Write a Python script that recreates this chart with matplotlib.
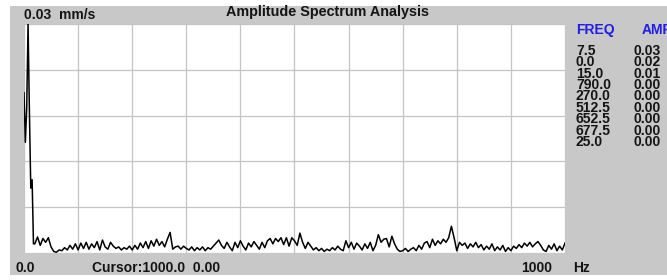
#!/usr/bin/env python

import numpy as np
import matplotlib
matplotlib.use('Agg')
import matplotlib.pyplot as plt
from matplotlib.patches import Rectangle

# spectrum: fine bins around the low-frequency spike (mm/s)
spike_freq = [0.0, 2.5, 5.0, 7.5, 10.0, 12.5, 15.0, 17.5]
spike_amp = [0.021, 0.0145, 0.019, 0.030, 0.0185, 0.0085, 0.0096, 0.0012]

# noise floor from 20 to 1000 Hz every 5 Hz, in units of 1e-4 mm/s
noise_start, noise_step = 20.0, 5.0
noise_e4 = [
  12, 21, 10, 19, 14, 20, 8, 2, 1, 4,
  3, 7, 4, 10, 5, 12, 4, 13, 6, 14,
  5, 12, 7, 15, 4, 17, 8, 5, 14, 9,
  6, 8, 4, 7, 5, 9, 4, 10, 5, 13,
  7, 15, 6, 16, 9, 18, 10, 15, 8, 18,
  27, 5, 8, 9, 5, 9, 6, 4, 8, 3,
  7, 4, 8, 3, 7, 5, 9, 13, 17, 10,
  6, 14, 8, 3, 14, 7, 16, 9, 4, 13,
  8, 15, 10, 5, 14, 7, 16, 19, 12, 19,
  15, 20, 11, 20, 9, 20, 16, 10, 26, 14,
  6, 14, 9, 4, 7, 3, 6, 2, 5, 3,
  7, 4, 9, 5, 3, 16, 7, 14, 5, 13,
  9, 4, 12, 6, 14, 3, 10, 24, 14, 18,
  19, 8, 22, 12, 5, 2, 3, 6, 2, 5,
  7, 3, 10, 5, 13, 15, 7, 18, 10, 16,
  12, 18, 14, 20, 35, 20, 3, 14, 10, 13,
  6, 12, 8, 14, 7, 11, 4, 9, 5, 12,
  3, 8, 4, 10, 2, 7, 3, 9, 6, 11,
  7, 13, 9, 14, 8, 12, 15, 10, 4, 2,
  10, 5, 12, 3, 9, 4, 13,
]

# peak table on the right
peak_freq = ['7.5', '0.0', '15.0', '790.0', '270.0', '512.5', '652.5', '677.5', '25.0']
peak_amp = ['0.03', '0.02', '0.01', '0.00', '0.00', '0.00', '0.00', '0.00', '0.00']

y_max = 0.03
f_max = 1000.0
cursor_text = 'Cursor:1000.0  0.00'

noise_freq = noise_start + noise_step * np.arange(len(noise_e4))
freq = np.concatenate([spike_freq, noise_freq])
amp = np.concatenate([spike_amp, np.array(noise_e4) * 1e-4])

W, H = 667, 280
fig = plt.figure(figsize=(W / 100, H / 100), dpi=100, facecolor='white')

gray = '#c8c8c8'
# gray panel behind everything, white strip on top and left
fig.patches.append(Rectangle((10 / W, (H - 275) / H), 1 - 10 / W, 269 / H,
                             transform=fig.transFigure, facecolor=gray,
                             edgecolor='none', zorder=-10))

ax = fig.add_axes([24 / W, (H - 253) / H, (565 - 24) / W, (253 - 24) / H])
ax.set_facecolor('white')
ax.plot(freq, amp, color='black', lw=1.1)
ax.set_xlim(0, f_max)
ax.set_ylim(0, y_max)
ax.set_xticks(np.linspace(0, f_max, 11))
ax.set_yticks(np.linspace(0, y_max, 6))
ax.grid(True, color='#c4c4c4', lw=0.9)
ax.tick_params(length=0, labelbottom=False, labelleft=False)
for s in ax.spines.values():
  s.set_visible(False)

font = dict(family=['Liberation Sans', 'DejaVu Sans'], fontweight='bold')
txt = '#141414'
blue = '#1e1ee6'

def put(x, y, s, color=txt, ha='left', va='center', size=10, **kw):
  fig.text(x / W, 1 - y / H, s, color=color, ha=ha, va=va, fontsize=size,
           **font, **kw)

put(24, 15, '0.03  mm/s')
put(328, 12, 'Amplitude Spectrum Analysis', ha='center', size=10.4)
put(576, 30, 'FREQ', color=blue)
put(642, 30, 'AMP', color=blue)
# table columns as one block each, rows ~11.7 px apart
put(576, 44, '\n'.join(peak_freq), va='top', linespacing=0.76)
put(634, 44, '\n'.join(peak_amp), va='top', linespacing=0.76)

put(15, 268, '0.0')
put(92, 268, cursor_text)
put(521, 268, '1000')
put(573, 268, 'Hz')

fig.savefig('out.png', dpi=100, facecolor='white')
